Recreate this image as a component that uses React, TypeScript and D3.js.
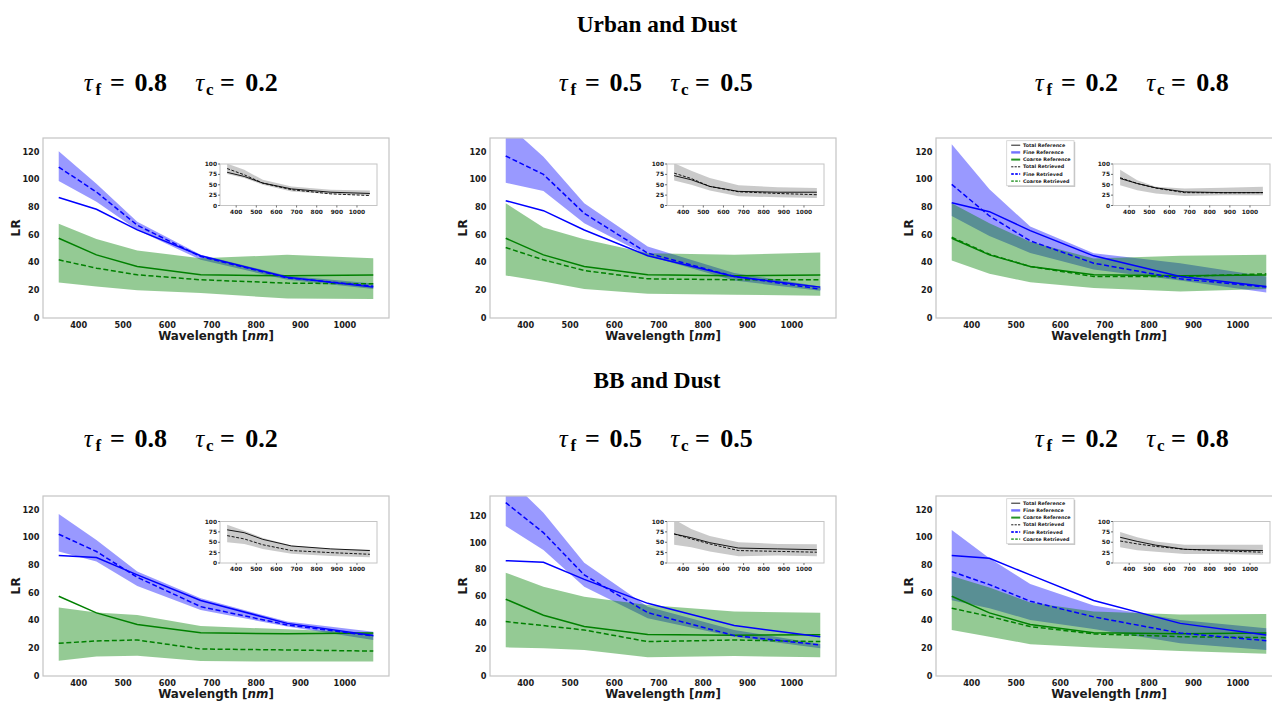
import React from 'react';
import * as d3 from 'd3';

// Wavelength grid (nm) shared by every panel
const wavelengths = [355, 440, 532, 675, 870, 1064];
const mixtureTitles = ['Urban and Dust', 'BB and Dust'];
const tauFine = ['0.8', '0.5', '0.2'];
const tauCoarse = ['0.2', '0.5', '0.8'];
const lrLimits = [130, 130, 130, 130, 135, 130];
const xTicks = [400, 500, 600, 700, 800, 900, 1000];
const lrTicks = [0, 20, 40, 60, 80, 100, 120];
const insetTicks = [0, 25, 50, 75, 100];

// Rows: panels in reading order (Urban 0.8/0.5/0.2, BB 0.8/0.5/0.2)
const fineReference = [
  [87, 78.5, 63.6, 45, 29.5, 22.3],
  [84.7, 77.5, 63.6, 45, 30, 22.3],
  [83.3, 76.8, 63.1, 44.9, 30, 22.8],
  [87, 85.5, 73, 54.5, 38, 29.2],
  [86.5, 85.3, 72.5, 54.5, 37.8, 29.5],
  [87, 85, 73, 54.5, 38, 29.6],
];
const fineRetrieved = [
  [109, 91, 67, 44.4, 29, 23],
  [117, 103.7, 75.6, 46.8, 30, 20.9],
  [96.5, 73.7, 55.7, 39.6, 28.3, 22.3],
  [102.4, 89.9, 71.3, 50.1, 36.9, 28.9],
  [130, 107.5, 75.8, 47.5, 30.3, 23.3],
  [75.4, 66, 54, 42.7, 31, 25.5],
];
const fineLower = [
  [99, 84, 63.6, 42, 27.6, 21],
  [97.7, 91.7, 68.4, 44.9, 27, 19.7],
  [73.7, 59.3, 47, 35, 27, 18.5],
  [89.9, 82.7, 65, 47.7, 35.7, 26],
  [112.5, 94.5, 67, 43.3, 29.5, 20.8],
  [54.7, 49, 40.5, 34, 23.6, 18.8],
];
const fineUpper = [
  [120.5, 97, 69.6, 45.6, 30.5, 25],
  [141, 116.4, 82.8, 51.6, 32.5, 22.8],
  [125.5, 92.9, 66, 46.8, 39.6, 30],
  [117, 98.3, 75.4, 56.1, 39.3, 32],
  [150, 122.5, 85, 52, 34.5, 24],
  [105.5, 85, 66.5, 51, 40.5, 34.5],
];

const coarseReference = [
  [57.6, 45.6, 37.2, 31.2, 30.5, 31],
  [57.6, 45.6, 37.2, 31.2, 30.5, 31],
  [57.6, 45.6, 37.2, 31.2, 30.5, 31],
  [57.6, 45.6, 37.2, 31.2, 30.5, 31],
  [57.6, 45.6, 37.2, 31.2, 30.5, 31],
  [57.6, 45.6, 37.2, 31.2, 30.5, 31],
];
const coarseRetrieved = [
  [42, 36, 31.2, 27.6, 25.2, 24.7],
  [50.9, 42, 34.3, 28.3, 27.6, 27.6],
  [58.3, 46, 37.2, 30, 30, 31.9],
  [23.6, 25.3, 26, 19.5, 18.8, 18],
  [40.8, 37.8, 34.5, 25.8, 27, 25.8],
  [49, 43, 35.7, 30.4, 28.4, 27.7],
];
const coarseLower = [
  [25.7, 22.8, 20, 18, 14, 13.7],
  [30.7, 26.4, 20.9, 17.5, 16.8, 16],
  [41.5, 31.9, 25.9, 21.6, 19.2, 20.9],
  [11, 14, 14.7, 10.8, 10.4, 10.4],
  [21.5, 20.8, 19.5, 14, 15, 14],
  [33.2, 28.4, 23, 20.5, 18, 16],
];
const coarseUpper = [
  [68, 57, 48.7, 43.2, 45.6, 43.2],
  [82.8, 65.3, 56.9, 46.8, 45.6, 47.3],
  [82.8, 68.4, 55, 43, 44.9, 45.6],
  [49.4, 45.8, 44.1, 36.1, 33.7, 31.3],
  [77.5, 67, 59.5, 53.3, 48.3, 47.5],
  [72.2, 64, 53, 46.5, 44.5, 44.8],
];

const totalReference = [
  [80, 70, 54, 40, 32, 29],
  [72, 62, 46, 34, 32, 32],
  [65, 53, 42.6, 32.8, 31, 31],
  [80, 73, 57, 41, 34, 30],
  [70, 61, 49, 36, 34, 32],
  [62, 52, 43, 33, 31, 30],
];
const totalRetrieved = [
  [89, 74, 54, 38, 28, 24],
  [78, 65, 46, 33, 29, 26],
  [67, 53, 42, 31, 30.5, 31],
  [66, 58, 44, 30, 25, 21],
  [70, 58, 46, 30, 28, 26],
  [53, 46, 40, 33, 29, 26],
];
const totalLower = [
  [76, 66, 50, 34, 28, 25],
  [60, 50, 36, 22, 20, 18],
  [49, 37, 28.7, 23, 24.6, 24.6],
  [50, 46, 34, 22, 17, 14],
  [44, 38, 28, 16, 18, 16],
  [38, 31, 27, 21.5, 21.5, 19],
];
const totalUpper = [
  [101, 86, 62, 46, 38, 36],
  [102, 84, 66, 49, 44, 42],
  [86, 61, 45, 41, 42.6, 45],
  [92, 78, 60, 42, 34, 32],
  [105, 82, 65, 50, 46, 45],
  [75, 62, 52, 44, 44, 44],
];

const legendLabels = [
  'Total Reference',
  'Fine Reference',
  'Coarse Reference',
  'Total Retrieved',
  'Fine Retrieved',
  'Coarse Retrieved',
];

const BLUE = '#0000ff';
const GREEN = '#008000';
const SPINE = '#c4c4c4';
const TEXT = '#1a1a1a';
const SANS = '"DejaVu Sans", sans-serif';
const SERIF = '"Liberation Serif", "Times New Roman", serif';

const colLeft = [43, 490, 936];
const rowTop = [138, 496];
const axW = 346;
const axH = 180;
const xDomain: [number, number] = [319.55, 1099.45];

function bandPath(
  x: d3.ScaleLinear<number, number>,
  y: d3.ScaleLinear<number, number>,
  lo: number[],
  hi: number[]
) {
  return (
    d3
      .area<number>()
      .x((d) => x(d))
      .y0((_, i) => y(lo[i]))
      .y1((_, i) => y(hi[i]))(wavelengths) || ''
  );
}

function linePath(
  x: d3.ScaleLinear<number, number>,
  y: d3.ScaleLinear<number, number>,
  v: number[]
) {
  return (
    d3
      .line<number>()
      .x((d) => x(d))
      .y((_, i) => y(v[i]))(wavelengths) || ''
  );
}

function Inset({ k, top }: { k: number; top: number }) {
  const left = 177;
  const w = 157;
  const h = 41.5;
  const x = d3.scaleLinear().domain(xDomain).range([0, w]);
  const y = d3.scaleLinear().domain([0, 100]).range([h, 0]);
  const clipId = `inset-clip-${k}`;
  return (
    <g transform={`translate(${left},${top})`}>
      <rect x={0} y={0} width={w} height={h} fill="#ffffff" />
      <defs>
        <clipPath id={clipId}>
          <rect x={0} y={0} width={w} height={h} />
        </clipPath>
      </defs>
      <g clipPath={`url(#${clipId})`}>
        <path d={bandPath(x, y, totalLower[k], totalUpper[k])} fill="#808080" fillOpacity={0.42} />
        <path d={linePath(x, y, totalReference[k])} fill="none" stroke="#000" strokeWidth={0.9} />
        <path
          d={linePath(x, y, totalRetrieved[k])}
          fill="none"
          stroke="#000"
          strokeWidth={0.9}
          strokeDasharray="3 1.6"
        />
      </g>
      <rect x={0} y={0} width={w} height={h} fill="none" stroke={SPINE} strokeWidth={1} />
      {insetTicks.map((t) => (
        <g key={`iy${t}`}>
          <line x1={-2} x2={0} y1={y(t)} y2={y(t)} stroke="#333" strokeWidth={0.7} />
          <text
            x={-3}
            y={y(t)}
            dy="0.35em"
            textAnchor="end"
            fontFamily={SANS}
            fontWeight="bold"
            fontSize={5.9}
            fill={TEXT}
          >
            {t}
          </text>
        </g>
      ))}
      {xTicks.map((t) => (
        <g key={`ix${t}`}>
          <line x1={x(t)} x2={x(t)} y1={h} y2={h + 2} stroke="#333" strokeWidth={0.7} />
          <text
            x={x(t)}
            y={h + 8.2}
            textAnchor="middle"
            fontFamily={SANS}
            fontWeight="bold"
            fontSize={5.9}
            fill={TEXT}
          >
            {t}
          </text>
        </g>
      ))}
    </g>
  );
}

function Legend() {
  const lx = 70.7;
  const ly = 2.7;
  const w = 67.3;
  const h = 45;
  const rows = [
    { stroke: '#000', width: 0.9, dash: undefined, opacity: 1 },
    { stroke: BLUE, width: 2.4, dash: undefined, opacity: 0.55 },
    { stroke: GREEN, width: 2.0, dash: undefined, opacity: 0.85 },
    { stroke: '#000', width: 0.9, dash: '2.2 1.2', opacity: 1 },
    { stroke: BLUE, width: 1.8, dash: '2.6 1.4', opacity: 0.85 },
    { stroke: GREEN, width: 1.8, dash: '2.6 1.4', opacity: 0.7 },
  ];
  return (
    <g transform={`translate(${lx},${ly})`}>
      <rect x={1.2} y={1.2} width={w} height={h} fill="#9a9a9a" opacity={0.6} />
      <rect x={0} y={0} width={w} height={h} fill="#ffffff" stroke="#d0d0d0" strokeWidth={0.8} />
      {legendLabels.map((lab, i) => {
        const ry = 4.5 + i * 7.2;
        const r = rows[i];
        return (
          <g key={lab}>
            <line
              x1={4.5}
              x2={13.5}
              y1={ry}
              y2={ry}
              stroke={r.stroke}
              strokeWidth={r.width}
              strokeDasharray={r.dash}
              strokeOpacity={r.opacity}
            />
            <text
              x={16.3}
              y={ry}
              dy="0.35em"
              fontFamily={SANS}
              fontWeight="bold"
              fontSize={4.8}
              fill={TEXT}
            >
              {lab}
            </text>
          </g>
        );
      })}
    </g>
  );
}

function Panel({ k }: { k: number }) {
  const col = k % 3;
  const row = Math.floor(k / 3);
  const left = colLeft[col];
  const top = rowTop[row];
  const x = d3.scaleLinear().domain(xDomain).range([0, axW]);
  const y = d3.scaleLinear().domain([0, lrLimits[k]]).range([axH, 0]);
  const clipId = `main-clip-${k}`;
  return (
    <g transform={`translate(${left},${top})`}>
      <defs>
        <clipPath id={clipId}>
          <rect x={0} y={0} width={axW} height={axH} />
        </clipPath>
      </defs>
      <g clipPath={`url(#${clipId})`}>
        <path d={bandPath(x, y, fineLower[k], fineUpper[k])} fill={BLUE} fillOpacity={0.4} />
        <path d={bandPath(x, y, coarseLower[k], coarseUpper[k])} fill={GREEN} fillOpacity={0.42} />
        <path d={linePath(x, y, coarseReference[k])} fill="none" stroke={GREEN} strokeWidth={1.5} />
        <path
          d={linePath(x, y, coarseRetrieved[k])}
          fill="none"
          stroke={GREEN}
          strokeWidth={1.5}
          strokeDasharray="5 2.6"
        />
        <path d={linePath(x, y, fineReference[k])} fill="none" stroke={BLUE} strokeWidth={1.5} />
        <path
          d={linePath(x, y, fineRetrieved[k])}
          fill="none"
          stroke={BLUE}
          strokeWidth={1.5}
          strokeDasharray="5 2.6"
        />
      </g>
      <rect x={0} y={0} width={axW} height={axH} fill="none" stroke={SPINE} strokeWidth={1.2} />
      {lrTicks.map((t) => (
        <text
          key={`y${t}`}
          x={-3.5}
          y={y(t)}
          dy="0.35em"
          textAnchor="end"
          fontFamily={SANS}
          fontWeight="bold"
          fontSize={8.2}
          fill={TEXT}
        >
          {t}
        </text>
      ))}
      {xTicks.map((t) => (
        <text
          key={`x${t}`}
          x={x(t)}
          y={axH + 9.6}
          textAnchor="middle"
          fontFamily={SANS}
          fontWeight="bold"
          fontSize={8.2}
          fill={TEXT}
        >
          {t}
        </text>
      ))}
      <text
        transform={`translate(${-27.5},${axH / 2}) rotate(-90)`}
        textAnchor="middle"
        dy="0.35em"
        fontFamily={SANS}
        fontWeight="bold"
        fontSize={12.5}
        fill={TEXT}
      >
        LR
      </text>
      <text
        x={axW / 2}
        y={axH + 21.8}
        textAnchor="middle"
        fontFamily={SANS}
        fontWeight="bold"
        fontSize={11.9}
        fill={TEXT}
      >
        Wavelength [<tspan fontStyle="italic">nm</tspan>]
      </text>
      <Inset k={k} top={row === 0 ? 26 : 25.5} />
      {col === 2 && <Legend />}
    </g>
  );
}

function TauLabel({ x0, baseline, fine, coarse }: { x0: number; baseline: number; fine: string; coarse: string }) {
  const common = { fill: '#000', textAnchor: 'middle' as const };
  return (
    <g>
      <text x={x0 + 6.3} y={baseline} fontFamily={SERIF} fontStyle="italic" fontSize={25} {...common}>
        τ
      </text>
      <text x={x0 + 16.3} y={baseline + 4} fontFamily={SERIF} fontWeight="bold" fontSize={17} {...common}>
        f
      </text>
      <text x={x0 + 35.3} y={baseline} fontFamily={SERIF} fontWeight="bold" fontSize={26} {...common}>
        =
      </text>
      <text x={x0 + 68.8} y={baseline} fontFamily={SERIF} fontWeight="bold" fontSize={26} {...common}>
        {fine}
      </text>
      <text x={x0 + 117.8} y={baseline} fontFamily={SERIF} fontStyle="italic" fontSize={25} {...common}>
        τ
      </text>
      <text x={x0 + 127.8} y={baseline + 4} fontFamily={SERIF} fontWeight="bold" fontSize={17} {...common}>
        c
      </text>
      <text x={x0 + 145.3} y={baseline} fontFamily={SERIF} fontWeight="bold" fontSize={26} {...common}>
        =
      </text>
      <text x={x0 + 179.5} y={baseline} fontFamily={SERIF} fontWeight="bold" fontSize={26} {...common}>
        {coarse}
      </text>
    </g>
  );
}

const tauLeft = [82, 557, 1033];
const tauBaseline = [91, 447];
const titleBaseline = [32, 388];

export default function App() {
  return (
    <svg
      width={1272}
      height={702}
      viewBox="0 0 1272 702"
      style={{ position: 'absolute', left: 0, top: 0, background: '#ffffff' }}
    >
      <rect x={0} y={0} width={1272} height={702} fill="#ffffff" />
      {mixtureTitles.map((t, r) => (
        <text
          key={t}
          x={657}
          y={titleBaseline[r]}
          textAnchor="middle"
          fontFamily={SERIF}
          fontWeight="bold"
          fontSize={23.3}
          fill="#000"
        >
          {t}
        </text>
      ))}
      {[0, 1].map((r) =>
        [0, 1, 2].map((c) => (
          <TauLabel
            key={`tau${r}${c}`}
            x0={tauLeft[c]}
            baseline={tauBaseline[r]}
            fine={tauFine[c]}
            coarse={tauCoarse[c]}
          />
        ))
      )}
      {[0, 1, 2, 3, 4, 5].map((k) => (
        <Panel key={k} k={k} />
      ))}
    </svg>
  );
}
